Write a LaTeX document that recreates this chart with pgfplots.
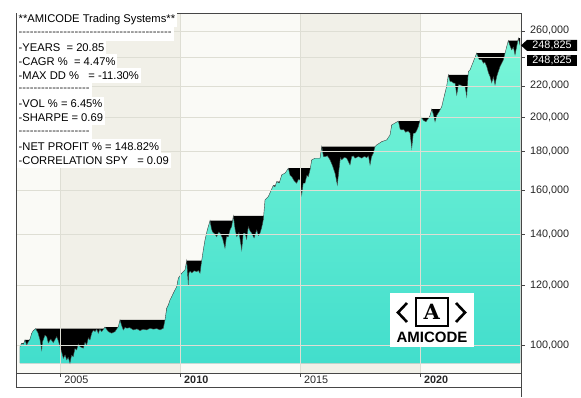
\documentclass[border=0pt]{standalone}
\usepackage{fontspec}
\setmainfont{Liberation Sans}
\newfontfamily\logoserif{DejaVu Serif}
\usepackage{pgfplots}
\pgfplotsset{compat=1.18}
\usepackage{pgfplotstable}

\definecolor{bgA}{RGB}{250,250,246}
\definecolor{bgB}{RGB}{241,240,232}
\definecolor{gridc}{RGB}{222,222,212}
\definecolor{mintT}{RGB}{122,246,216}
\definecolor{mintB}{RGB}{66,222,204}
\definecolor{framec}{RGB}{70,70,70}

\newcount\hycount
\newcommand\hyphens[1]{\hycount=0 \loop\ifnum\hycount<#1 -\kern0pt\advance\hycount by 1 \repeat}

\pgfplotstableread{
year value
2003.319 99480
2003.390 100520
2003.460 100200
2003.528 101530
2003.599 100000
2003.660 100900
2003.736 101750
2003.807 103620
2003.874 104450
2003.974 105090
2004.070 103720
2004.153 101530
2004.224 98490
2004.260 101000
2004.291 101530
2004.360 103000
2004.433 102560
2004.500 100610
2004.600 101800
2004.708 100700
2004.850 102560
2004.920 101200
2004.987 99480
2005.060 97800
2005.125 96030
2005.200 97000
2005.267 95540
2005.330 96300
2005.405 94600
2005.470 96900
2005.542 96500
2005.610 98900
2005.684 98490
2005.750 100300
2005.822 99480
2005.959 99000
2006.030 100800
2006.101 100000
2006.170 102200
2006.239 101530
2006.309 103620
2006.380 104600
2006.447 104130
2006.520 104900
2006.585 103620
2006.650 104900
2006.726 104130
2006.864 105600
2007.002 104130
2007.143 103620
2007.281 104130
2007.419 105730
2007.490 107900
2007.560 106000
2007.627 104670
2007.700 105500
2007.769 105210
2007.900 105400
2008.044 104670
2008.200 105000
2008.324 104450
2008.450 104900
2008.603 104670
2008.750 105200
2008.878 104890
2009.020 105100
2009.158 104670
2009.295 105210
2009.366 107900
2009.437 111820
2009.504 112950
2009.575 114680
2009.646 115830
2009.712 117040
2009.854 119410
2009.921 122500
2010.063 124380
2010.200 125640
2010.271 129250
2010.337 120030
2010.360 124500
2010.420 125200
2010.480 124500
2010.580 125300
2010.688 124990
2010.760 125400
2010.826 124380
2010.896 129250
2010.963 133520
2011.034 137650
2011.130 141900
2011.243 145980
2011.300 142500
2011.350 141000
2011.440 140200
2011.522 139040
2011.600 141000
2011.660 140490
2011.760 138500
2011.868 134220
2011.930 139040
2012.006 139040
2012.080 142000
2012.147 143340
2012.214 148080
2012.290 142000
2012.356 139040
2012.450 140800
2012.565 133520
2012.630 140490
2012.702 140490
2012.770 138000
2012.840 143340
2012.910 141500
2012.982 140490
2013.080 138500
2013.190 141900
2013.260 139500
2013.328 140490
2013.400 143000
2013.465 146290
2013.536 155470
2013.674 157040
2013.882 162500
2013.950 161800
2014.024 164370
2014.130 163700
2014.233 167760
2014.380 168800
2014.508 171210
2014.580 167500
2014.650 166890
2014.750 164800
2014.858 163570
2014.930 165500
2014.996 165220
2015.067 157850
2015.130 163570
2015.204 163570
2015.280 167500
2015.342 166890
2015.413 170330
2015.484 175590
2015.621 176510
2015.830 176510
2015.901 182850
2015.970 177500
2016.038 177370
2016.140 177800
2016.247 175590
2016.350 172500
2016.455 168630
2016.551 162730
2016.620 170330
2016.680 176800
2016.735 175590
2016.840 177000
2016.943 176510
2017.081 172940
2017.150 177370
2017.220 177800
2017.290 176500
2017.430 177400
2017.569 176510
2017.680 177500
2017.777 176800
2017.850 177800
2017.915 172940
2017.980 177370
2018.053 179210
2018.123 182850
2018.194 183800
2018.403 185650
2018.611 186610
2018.749 189480
2018.820 195330
2019.095 197600
2019.170 192800
2019.237 192380
2019.320 192600
2019.400 191000
2019.500 191800
2019.583 190460
2019.654 181960
2019.720 190460
2019.792 190460
2019.860 192000
2019.929 194320
2020.000 198320
2020.050 199960
2020.150 198000
2020.250 197300
2020.350 199300
2020.417 201000
2020.488 204890
2020.560 201500
2020.625 197300
2020.695 201000
2020.800 203500
2020.905 206520
2020.971 210770
2021.113 220000
2021.180 227440
2021.250 223000
2021.322 222840
2021.400 221800
2021.459 221760
2021.530 214000
2021.600 220600
2021.668 220620
2021.770 219800
2021.877 219480
2021.947 212900
2022.014 229730
2022.085 230920
2022.222 236830
2022.293 240000
2022.364 242960
2022.460 238500
2022.572 238060
2022.639 235640
2022.700 236500
2022.781 233250
2022.850 229000
2022.918 226260
2022.989 222000
2023.060 226000
2023.127 220620
2023.198 226260
2023.260 229500
2023.336 233250
2023.400 235500
2023.474 238060
2023.544 242960
2023.614 247890
2023.681 252460
2023.750 248500
2023.823 245410
2023.890 247500
2023.961 241710
2024.031 247890
2024.098 254310
2024.169 248825
}\equity

\pgfplotstableread{
year value
2003.319 99480
2003.390 100520
2003.528 101530
2003.736 101750
2003.807 103620
2003.874 104450
2003.974 105090
2006.864 105600
2007.419 105730
2007.490 107900
2009.437 111820
2009.504 112950
2009.575 114680
2009.646 115830
2009.712 117040
2009.854 119410
2009.921 122500
2010.063 124380
2010.200 125640
2010.271 129250
2010.963 133520
2011.034 137650
2011.130 141900
2011.243 145980
2012.214 148080
2013.536 155470
2013.674 157040
2013.882 162500
2014.024 164370
2014.233 167760
2014.508 171210
2015.484 175590
2015.621 176510
2015.901 182850
2018.194 183800
2018.403 185650
2018.611 186610
2018.749 189480
2018.820 195330
2019.095 197600
2020.000 198320
2020.050 199960
2020.417 201000
2020.488 204890
2020.905 206520
2020.971 210770
2021.113 220000
2021.180 227440
2022.014 229730
2022.085 230920
2022.222 236830
2022.293 240000
2022.364 242960
2023.614 247890
2023.681 252460
2024.098 254310
2024.169 254310
}\runmax

\begin{document}
\begin{tikzpicture}
\fill[white] (-16pt,-24pt) rectangle (565pt,373pt);
\path[use as bounding box] (-16pt,-24pt) rectangle (565pt,373pt);
\begin{axis}[
  name=main, at={(0,0)}, anchor=south west,
  scale only axis, width=505pt, height=360pt,
  xmin=2003.153, xmax=2024.21,
  ymode=log, ymin=91830, ymax=274600,
  axis background/.style={fill=bgA},
  axis on top,
  axis line style={framec, line width=0.8pt},
  xtick={2005,2010,2015,2020},
  xticklabels={2005,\textbf{2010},2015,\textbf{2020}},
  xtick pos=bottom, ytick pos=right, yticklabel pos=right,
  tick align=outside, major tick length=4pt,
  ytick={100000,120000,140000,160000,180000,200000,220000,240000,260000},
  yticklabels={{100,000},{120,000},{140,000},{160,000},{180,000},{200,000},{220,000},{},{260,000}},
  minor y tick num=0,
  grid=major, major grid style={gridc, line width=0.6pt},
  ticklabel style={font=\fontsize{10.8}{12}\selectfont, text=black!85},
  xticklabel style={anchor=north west, xshift=0.5pt, yshift=4.5pt},
  yticklabel style={anchor=west, xshift=1.5pt},
  tick style={framec, line width=0.6pt},
]
\fill[bgB] (axis cs:2005,91830) rectangle (axis cs:2010,274600);
\fill[bgB] (axis cs:2015,91830) rectangle (axis cs:2020,274600);
\addplot[const plot, fill=black, draw=none] table[x=year,y=value]{\runmax}
  -- (axis cs:2024.169,94600) -- (axis cs:2003.319,94600) -- cycle;
\addplot[draw=none, top color=mintT, bottom color=mintB] table[x=year,y=value]{\equity}
  -- (axis cs:2024.169,94600) -- (axis cs:2003.319,94600) -- cycle;
\addplot[black!75, line width=0.4pt] table[x=year,y=value]{\equity};
\coordinate (lastv) at (axis cs:2024.21,248825);
\end{axis}
\begin{scope}[shift={(-16pt,373pt)}, x=1pt, y=-1pt]
  \draw[framec, line width=0.8pt] (16,373) -- (16,387) -- (521,387);
  \draw[framec, line width=0.8pt] (521,373) -- (521,397);
  \begin{scope}[every node/.style={anchor=west, fill=white, inner xsep=2pt, inner ysep=0pt, minimum height=14.8pt, font=\fontsize{11.2}{12}\selectfont}]
    \node at (16.5,19.5) {**AMICODE Trading Systems**\hspace{2pt}};
    \node at (16.5,33.3) {\textcolor{black!85}{\hyphens{41}}};
    \node at (16.5,47.3) {-YEARS\ \ = 20.85};
    \node at (16.5,61.3) {-CAGR \%\ \ = 4.47\%};
    \node at (16.5,75.3) {-MAX DD \%\ \ \ = -11.30\%};
    \node at (16.5,89.8) {\textcolor{black!85}{\hyphens{19}}};
    \node at (16.5,104) {-VOL \% = 6.45\%};
    \node at (16.5,118) {-SHARPE = 0.69};
    \node at (16.5,132.5) {\textcolor{black!85}{\hyphens{19}}};
    \node at (16.5,146.3) {-NET PROFIT \% = 148.82\%};
    \node at (16.5,160.3) {-CORRELATION SPY\ \ \ = 0.09};
  \end{scope}
  % logo
  \fill[white] (390,293) rectangle (474,347);
  \draw[black, line width=2.6pt, line cap=butt, line join=miter] (407,303) -- (398,312.5) -- (407,322);
  \draw[black, line width=2.6pt, line cap=butt, line join=miter] (456,303) -- (465,312.5) -- (456,322);
  \draw[black, line width=2pt] (415.5,297.5) rectangle (448,326);
  \node at (431.7,312) {\logoserif\bfseries\fontsize{21}{21}\selectfont A};
  \node at (432,337.5) {\bfseries\fontsize{15}{15}\selectfont AMICODE};
\end{scope}
% last value labels
\fill[black] (lastv) -- ++(6pt,5.5pt) -- ++(50pt,0) -- ++(0,-11pt) -- ++(-50pt,0) -- cycle;
\node[text=white, font=\fontsize{10.8}{12}\selectfont] at ([xshift=31pt]lastv) {248,825};
\fill[black] ([xshift=6pt,yshift=-9.5pt]lastv) rectangle ++(50pt,-11pt);
\node[text=white, font=\fontsize{10.8}{12}\selectfont] at ([xshift=31pt,yshift=-15pt]lastv) {248,825};
\end{tikzpicture}
\end{document}
